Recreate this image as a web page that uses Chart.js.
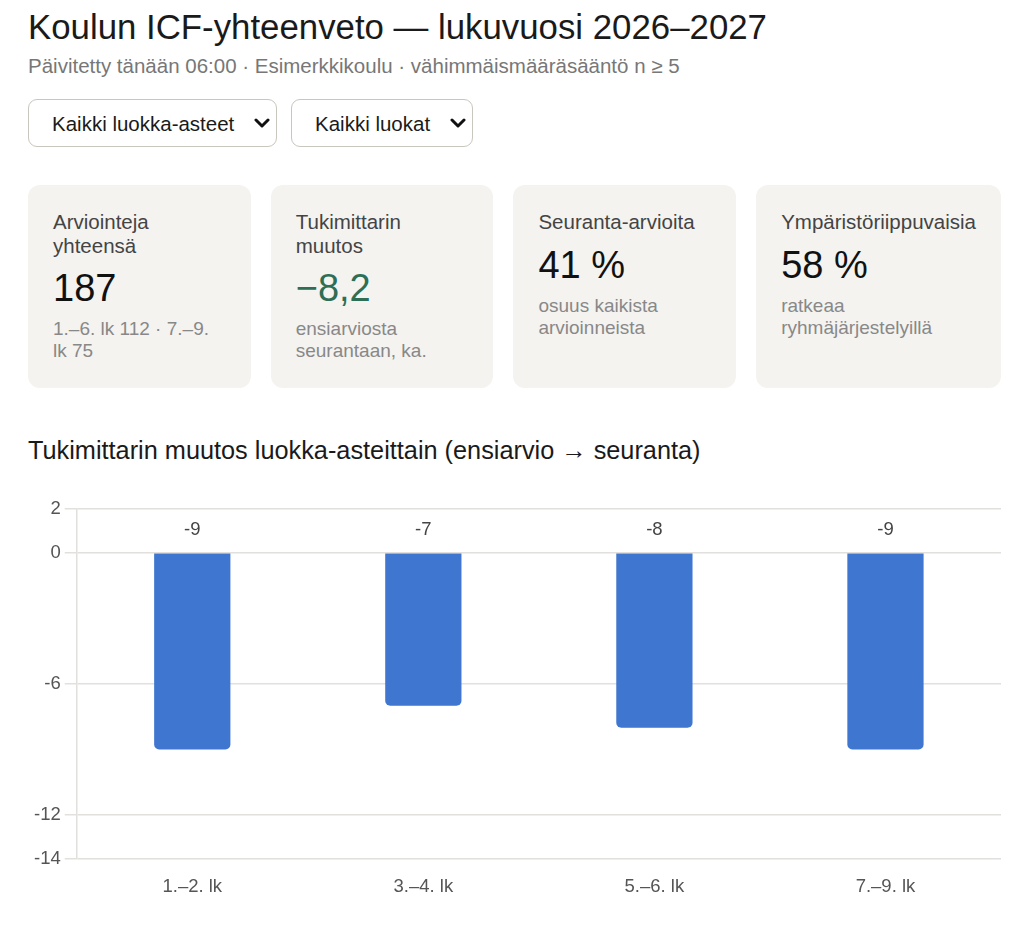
<!DOCTYPE html>
<html lang="fi">
<head>
    <meta charset="UTF-8">
    <meta name="viewport" content="width=device-width, initial-scale=1.0">
    <title>Koulun ICF-yhteenveto</title>
    <script src="https://cdn.jsdelivr.net/npm/chart.js"></script>
    <style>
        body {
            margin: 0;
            padding: 0 23px 0 28px;
            font-family: "Liberation Sans", Arial, sans-serif;
            color: #1a1a1a;
            background: #fff;
        }
        h1 {
            font-size: 34.8px;
            font-weight: normal;
            margin: 7px 0 0 0;
            line-height: 40px;
        }
        .sub {
            font-size: 20.5px;
            color: #777;
            margin-top: 7px;
            line-height: 24px;
        }
        .filters {
            margin-top: 21px;
            display: flex;
            gap: 14px;
        }
        select {
            -webkit-appearance: none;
            appearance: none;
            font-family: inherit;
            font-size: 20.5px;
            color: #1a1a1a;
            border: 1px solid #c9c6bd;
            border-radius: 9px;
            height: 48px;
            padding: 0 41px 0 23px;
            background: #fff url("data:image/svg+xml;utf8,<svg xmlns='http://www.w3.org/2000/svg' width='16' height='10' viewBox='0 0 16 10'><path d='M2 2 L8 8 L14 2' fill='none' stroke='%23111' stroke-width='3' stroke-linecap='round' stroke-linejoin='round'/></svg>") no-repeat right 6px center;
        }
        .cards {
            display: flex;
            gap: 20px;
            margin-top: 38px;
        }
        .card {
            flex: 1 1 0;
            background: #f4f3f0;
            border-radius: 12px;
            padding: 25px 25px 26px 25px;
        }
        .card .label {
            font-size: 20.5px;
            line-height: 23.6px;
            color: #444;
        }
        .card .value {
            font-size: 38px;
            line-height: 44px;
            margin-top: 9px;
            color: #111;
        }
        .card .value.green { color: #2d6e55; }
        .card .note {
            font-size: 19px;
            line-height: 22px;
            color: #888;
            margin-top: 8px;
        }
        h2 {
            font-size: 25.3px;
            font-weight: normal;
            margin: 47px 0 0 0;
            line-height: 30px;
            color: #1a1a1a;
        }
        .chart-wrap {
            position: relative;
            height: 413px;
            margin-top: 29px;
        }
    </style>
</head>
<body>
    <h1>Koulun ICF-yhteenveto — lukuvuosi 2026–2027</h1>
    <div class="sub">Päivitetty tänään 06:00 · Esimerkkikoulu · vähimmäismääräsääntö n ≥ 5</div>
    <div class="filters">
        <select><option>Kaikki luokka-asteet</option></select>
        <select><option>Kaikki luokat</option></select>
    </div>
    <div class="cards">
        <div class="card">
            <div class="label">Arviointeja yhteensä</div>
            <div class="value">187</div>
            <div class="note">1.–6. lk 112 · 7.–9. lk 75</div>
        </div>
        <div class="card">
            <div class="label">Tukimittarin muutos</div>
            <div class="value green">−8,2</div>
            <div class="note">ensiarviosta seurantaan, ka.</div>
        </div>
        <div class="card">
            <div class="label">Seuranta-arvioita</div>
            <div class="value">41 %</div>
            <div class="note">osuus kaikista arvioinneista</div>
        </div>
        <div class="card">
            <div class="label">Ympäristöriippuvaisia</div>
            <div class="value">58 %</div>
            <div class="note">ratkeaa ryhmäjärjestelyillä</div>
        </div>
    </div>
    <h2>Tukimittarin muutos luokka-asteittain (ensiarvio → seuranta)</h2>
    <div class="chart-wrap">
        <canvas id="barChart"></canvas>
    </div>

    <script>
        // Chart data
        const grades = ['1.–2. lk', '3.–4. lk', '5.–6. lk', '7.–9. lk'];
        const changes = [-9, -7, -8, -9];
        const yTicks = [2, 0, -6, -12, -14];

        const fontFamily = '"Liberation Sans", Arial, sans-serif';

        // Draws the value of each bar just above the zero line
        const valueLabels = {
            id: 'valueLabels',
            afterDatasetsDraw(chart) {
                const ctx = chart.ctx;
                const yScale = chart.scales.y;
                const meta = chart.getDatasetMeta(0);
                ctx.save();
                ctx.font = '18.5px ' + fontFamily;
                ctx.fillStyle = '#444';
                ctx.textAlign = 'center';
                ctx.textBaseline = 'middle';
                meta.data.forEach((bar, i) => {
                    ctx.fillText(String(changes[i]), bar.x, yScale.getPixelForValue(0) - 23);
                });
                ctx.restore();
            }
        };

        const ctx = document.getElementById('barChart').getContext('2d');
        new Chart(ctx, {
            type: 'bar',
            data: {
                labels: grades,
                datasets: [{
                    label: 'Muutos',
                    data: changes,
                    backgroundColor: '#3f76cf',
                    borderRadius: 5,
                    barPercentage: 0.33,
                    categoryPercentage: 1
                }]
            },
            options: {
                responsive: true,
                maintainAspectRatio: false,
                animation: false,
                layout: { padding: { top: 6, right: 0, left: 2 } },
                plugins: {
                    legend: { display: false },
                    tooltip: { enabled: false }
                },
                scales: {
                    x: {
                        grid: { display: false },
                        border: { display: false },
                        ticks: {
                            color: '#555',
                            font: { size: 18.5, family: fontFamily },
                            padding: 9
                        }
                    },
                    y: {
                        min: -14,
                        max: 2,
                        afterBuildTicks(axis) {
                            axis.ticks = yTicks.map(v => ({ value: v }));
                        },
                        grid: {
                            color: '#e2e0dc',
                            lineWidth: 1.5,
                            tickLength: 12
                        },
                        border: { color: '#e2e0dc', width: 1.5 },
                        ticks: {
                            color: '#555',
                            font: { size: 18.5, family: fontFamily },
                            padding: 4
                        }
                    }
                }
            },
            plugins: [valueLabels]
        });
    </script>
</body>
</html>
